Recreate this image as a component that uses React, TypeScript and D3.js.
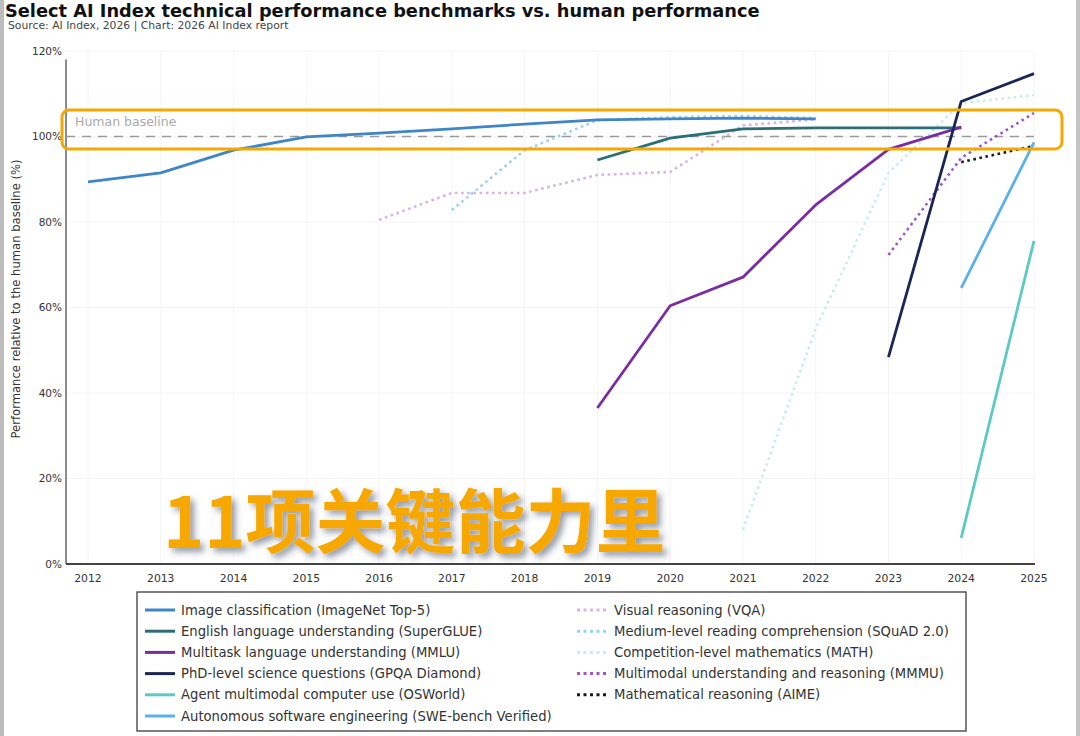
import React from "react";
import * as d3 from "d3";

const years = [2012, 2013, 2014, 2015, 2016, 2017, 2018, 2019, 2020, 2021, 2022, 2023, 2024, 2025];
const yTicks = [0, 20, 40, 60, 80, 100, 120];

// values aligned to years (null = no data)
const imagenet = [89.4, 91.5, 96.8, 99.9, 100.8, 101.8, 102.9, 103.9, 104.1, 104.3, 104.1, null, null, null];
const superglue = [null, null, null, null, null, null, null, 94.5, 99.6, 101.8, 102, 102, 102, null];
const mmlu = [null, null, null, null, null, null, null, 36.5, 60.4, 67.1, 84.0, 97.0, 102.2, null];
const gpqa = [null, null, null, null, null, null, null, null, null, null, null, 48.4, 108.2, 114.7];
const osworld = [null, null, null, null, null, null, null, null, null, null, null, null, 6.1, 75.6];
const swebench = [null, null, null, null, null, null, null, null, null, null, null, null, 64.6, 98.6];
const vqa = [null, null, null, null, 80.5, 86.8, 86.8, 91.0, 91.7, 102.6, 104.0, null, null, null];
const squad = [null, null, null, null, null, 82.8, 96.8, 103.8, 104.5, 104.8, 104.3, null, null, null];
const mathBench = [null, null, null, null, null, null, null, null, null, 8.0, 55.0, 91.5, 107.8, 109.7];
const mmmu = [null, null, null, null, null, null, null, null, null, null, null, 72.3, 95.0, 105.5];
const aime = [null, null, null, null, null, null, null, null, null, null, null, null, 94.0, 97.8];

const seriesNames = [
  "Image classification (ImageNet Top-5)",
  "English language understanding (SuperGLUE)",
  "Multitask language understanding (MMLU)",
  "PhD-level science questions (GPQA Diamond)",
  "Agent multimodal computer use (OSWorld)",
  "Autonomous software engineering (SWE-bench Verified)",
  "Visual reasoning (VQA)",
  "Medium-level reading comprehension (SQuAD 2.0)",
  "Competition-level mathematics (MATH)",
  "Multimodal understanding and reasoning (MMMU)",
  "Mathematical reasoning (AIME)",
];
const seriesValues = [imagenet, superglue, mmlu, gpqa, osworld, swebench, vqa, squad, mathBench, mmmu, aime];
const seriesColors = [
  "#3f86c6", "#2c6e78", "#7a2da0", "#1b2657", "#5ccac4", "#5ab0f0",
  "#d9b2e8", "#98d4ea", "#c8ecf0", "#9b59c6", "#1a1a1a",
];
const seriesDotted = [false, false, false, false, false, false, true, true, true, true, true];

const FONT = "'DejaVu Sans', 'Open Sans', sans-serif";

export default function App() {
  const W = 1080;
  const H = 736;
  const x = d3.scaleLinear().domain([2012, 2025]).range([88, 1034]);
  const y = d3.scaleLinear().domain([0, 120]).range([564, 51]);

  const line = d3
    .line<number | null>()
    .defined((d) => d !== null)
    .x((_, i) => x(years[i]))
    .y((d) => y(d as number));

  // draw order: light dotted behind, solid on top
  const order = [8, 6, 7, 0, 1, 9, 10, 2, 5, 4, 3];

  const legendLeft = [0, 1, 2, 3, 4, 5];
  const legendRight = [6, 7, 8, 9, 10];
  const rowY = (r: number) => 610 + r * 21.2;

  return (
    <svg width={W} height={H} style={{ display: "block", position: "absolute", left: 0, top: 0 }}>
      <defs>
        <filter id="sh" x="-10%" y="-20%" width="130%" height="160%">
          <feDropShadow dx="4" dy="4" stdDeviation="3" floodColor="#2a3550" floodOpacity="0.5" />
        </filter>
      </defs>
      <rect x={0} y={0} width={W} height={H} fill="#ffffff" />
      <rect x={0} y={0} width={4} height={H} fill="#bdbdbd" />
      <rect x={1076} y={0} width={4} height={H} fill="#c4c4c4" />

      {/* title */}
      <text x={5} y={17} fontFamily={FONT} fontWeight={700} fontSize={17.8} fill="#111">
        Select AI Index technical performance benchmarks vs. human performance
      </text>
      <text x={8} y={29} fontFamily={FONT} fontSize={10.8} fill="#444">
        Source: AI Index, 2026 | Chart: 2026 AI Index report
      </text>

      {/* grid */}
      {years.map((yr) => (
        <line key={"gx" + yr} x1={x(yr)} x2={x(yr)} y1={y(120)} y2={y(0)} stroke="#f4f4f4" strokeWidth={1} />
      ))}
      {yTicks.map((t) => (
        <line key={"gy" + t} x1={66} x2={1034} y1={y(t)} y2={y(t)} stroke="#f4f4f4" strokeWidth={1} />
      ))}

      {/* axes */}
      <line x1={66} x2={66} y1={y(118)} y2={y(0)} stroke="#666" strokeWidth={1.5} />
      <line x1={66} x2={1035} y1={y(0)} y2={y(0)} stroke="#444" strokeWidth={2} />
      {yTicks.map((t) => (
        <text key={"yt" + t} x={62} y={y(t)} dy="0.35em" textAnchor="end" fontFamily={FONT} fontSize={10.5} fill="#333">
          {t}%
        </text>
      ))}
      {years.map((yr) => (
        <text key={"xt" + yr} x={x(yr)} y={582} textAnchor="middle" fontFamily={FONT} fontSize={10.8} fill="#333">
          {yr}
        </text>
      ))}
      <text
        transform={`translate(20,${299}) rotate(-90)`}
        textAnchor="middle"
        fontFamily={FONT}
        fontSize={11.6}
        fill="#333"
      >
        Performance relative to the human baseline (%)
      </text>

      {/* human baseline */}
      <line x1={66} x2={1034} y1={y(100)} y2={y(100)} stroke="#9a9a9a" strokeWidth={1.6} strokeDasharray="9 7" />
      <text x={75} y={122} dy="0.35em" fontFamily={FONT} fontSize={12.5} fill="#aaa">
        Human baseline
      </text>

      {/* series */}
      {order.map((i) => (
        <path
          key={"s" + i}
          d={line(seriesValues[i]) || ""}
          fill="none"
          stroke={seriesColors[i]}
          strokeWidth={seriesDotted[i] ? 2.6 : 2.8}
          strokeDasharray={seriesDotted[i] ? "2.6 3.6" : undefined}
          strokeLinejoin="round"
        />
      ))}

      {/* highlight box */}
      <rect x={62} y={110} width={1000} height={39} rx={7} fill="none" stroke="#f5a800" strokeWidth={3} />

      {/* overlay caption */}
      <text
        x={163}
        y={548}
        fontFamily="'Noto Sans CJK SC', sans-serif"
        fontWeight={700}
        fontSize={70}
        fill="#f7a800"
        filter="url(#sh)"
      >
        11项关键能力里
      </text>

      {/* legend */}
      <rect x={137} y={592} width={829} height={139} fill="#fff" stroke="#555" strokeWidth={1.5} />
      {legendLeft.map((s, r) => (
        <g key={"ll" + s}>
          <line x1={145} x2={175} y1={rowY(r)} y2={rowY(r)} stroke={seriesColors[s]} strokeWidth={3} />
          <text x={181} y={rowY(r)} dy="0.35em" fontFamily={FONT} fontSize={13.2} fill="#333">
            {seriesNames[s]}
          </text>
        </g>
      ))}
      {legendRight.map((s, r) => (
        <g key={"lr" + s}>
          <line
            x1={577}
            x2={607}
            y1={rowY(r)}
            y2={rowY(r)}
            stroke={seriesColors[s]}
            strokeWidth={3}
            strokeDasharray="3 3.5"
          />
          <text x={614} y={rowY(r)} dy="0.35em" fontFamily={FONT} fontSize={13.2} fill="#333">
            {seriesNames[s]}
          </text>
        </g>
      ))}
    </svg>
  );
}
